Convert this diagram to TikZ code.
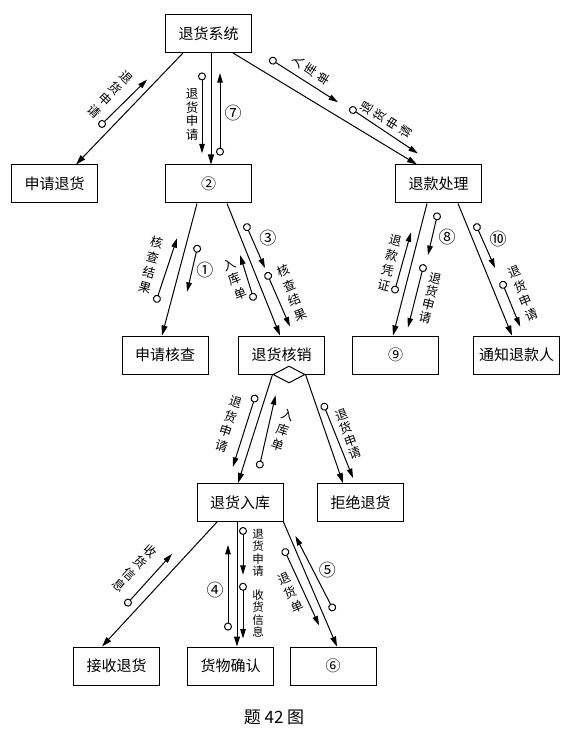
\documentclass[tikz,border=0pt]{standalone}
\usepackage{fontspec}
\setmainfont{Noto Sans CJK SC}
\usetikzlibrary{calc}
\usetikzlibrary{arrows.meta}
\usetikzlibrary{shapes.geometric}

\tikzset{
  box/.style={draw, rectangle, line width=1pt, minimum width=86pt, minimum height=38pt, inner sep=0pt, font=\fontsize{15}{17}\selectfont},
  link/.style={-{Triangle[length=10pt,width=6pt]}, line width=1pt},
  flow/.style={{Circle[open,length=8pt,width=8pt]}-{Triangle[length=9.5pt,width=5.5pt]}, line width=1pt, shorten <=-4pt},
  vlab/.style={align=center, inner sep=0pt, font=\fontsize{12.5}{15.5}\selectfont},
  tight/.style={font=\fontsize{12.5}{13.5}\selectfont},
  slab/.style={align=center, inner sep=0pt, font=\fontsize{11.5}{12.5}\selectfont},
  num/.style={inner sep=0pt, font=\fontsize{17}{17}\selectfont},
}
% small arrow beside a link: from, to, t circle, offset circle, t head, offset head
\newcommand{\msg}[6]{\draw[flow] ($(#1)!#3!(#2)!#4pt!90:(#2)$) -- ($(#1)!#5!(#2)!#6pt!90:(#2)$);}

\begin{document}
\begin{tikzpicture}[x=1pt, y=-1pt]
        \useasboundingbox (0,0) rectangle (571,735);
        % nodes %
        \node[box] (sys) at (208.5,33.5) {退货系统};
        \node[box] (sq) at (54.5,184) {申请退货};
        \node[box] (n2) at (208.5,184) {②};
        \node[box] (rp) at (438.5,184) {退款处理};
        \node[box] (hc) at (165,355) {申请核查};
        \node[box] (hx) at (281.5,355) {退货核销};
        \node[box] (n9) at (395.5,355) {⑨};
        \node[box] (tz) at (516.5,355) {通知退款人};
        \node[draw, diamond, fill=white, line width=1pt, inner sep=0pt, minimum width=32pt, minimum height=17pt] (hxd) at ([xshift=7.5pt]hx.south) {};
        \node[box] (rk) at (240,502.5) {退货入库};
        \node[box] (jj) at (360.5,502.5) {拒绝退货};
        \node[box] (js) at (116.5,666) {接收退货};
        \node[box] (hw) at (230.5,666) {货物确认};
        \node[box] (n6) at (333,666) {⑥};
        \node[font=\fontsize{17}{17}\selectfont] (cap) at (274,717) {题 42 图};

        % edges %
        \draw[link] ([xshift=-25.5pt]sys.south) coordinate (l1a) -- ([xshift=21.5pt]sq.north) coordinate (l1b);
        \draw[link] ([xshift=2.5pt]sys.south) coordinate (l2a) -- ([xshift=2.5pt]n2.north) coordinate (l2b);
        \draw[link] ([xshift=24.5pt]sys.south) coordinate (l3a) -- ([xshift=-21.5pt]rp.north) coordinate (l3b);
        \draw[link] ([xshift=-11.5pt]n2.south) coordinate (l4a) -- ([xshift=-3pt]hc.north) coordinate (l4b);
        \draw[link] ([xshift=18.5pt]n2.south) coordinate (l5a) -- ([xshift=-1.5pt]hx.north) coordinate (l5b);
        \draw[link] ([xshift=-11.5pt]rp.south) coordinate (l6a) -- ([xshift=-2.5pt]n9.north) coordinate (l6b);
        \draw[link] ([xshift=19.5pt]rp.south) coordinate (l7a) -- ([xshift=-4.5pt]tz.north) coordinate (l7b);
        \draw[link] (hxd.west) coordinate (l8a) -- ([xshift=-2pt]rk.north) coordinate (l8b);
        \draw[link] (hxd.east) coordinate (l9a) -- ([xshift=-17.5pt]jj.north) coordinate (l9b);
        \draw[link] ([xshift=-23pt]rk.south) coordinate (l10a) -- ([xshift=-14.5pt]js.north) coordinate (l10b);
        \draw[link] ([xshift=-3pt]rk.south) coordinate (l11a) -- ([xshift=6.5pt]hw.north) coordinate (l11b);
        \draw[link] (rk.south east) coordinate (l12a) -- ([xshift=4pt]n6.north) coordinate (l12b);

        % data flows %
        \msg{l1a}{l1b}{0.694}{-9.3}{0.285}{-7.5}
        \node[vlab, rotate=-43.5] (f1) at ($(l1a)!0.52!(l1b)!-24pt!90:(l1b)$) {退\\货\\申\\请};

        \msg{l2a}{l2b}{0.21}{-9}{0.90}{-9}
        \msg{l2a}{l2b}{0.885}{9}{0.18}{9}
        \node[vlab, tight] (f2) at ($(l2a)!0.55!(l2b)!-19pt!90:(l2b)$) {退\\货\\申\\请};
        \node[num] (c7) at ($(l2a)!0.54!(l2b)!22pt!90:(l2b)$) {⑦};

        \msg{l3a}{l3b}{0.177}{14.1}{0.536}{12.3}
        \msg{l3a}{l3b}{0.614}{13.4}{0.977}{9.9}
        \node[vlab, rotate=58.5] (f3) at ($(l3a)!0.35!(l3b)!25.5pt!90:(l3b)$) {入\\库\\单};
        \node[vlab, rotate=58.5] (f4) at ($(l3a)!0.77!(l3b)!22.6pt!90:(l3b)$) {退\\货\\申\\请};

        \msg{l4a}{l4b}{0.75}{-14.3}{0.283}{-10.4}
        \msg{l4a}{l4b}{0.32}{11.7}{0.644}{13}
        \node[vlab, rotate=-14.7] (f5) at ($(l4a)!0.521!(l4b)!-29pt!90:(l4b)$) {核\\查\\结\\果};
        \node[num] (c1) at ($(l4a)!0.457!(l4b)!24.8pt!90:(l4b)$) {①};

        \msg{l5a}{l5b}{0.207}{9.7}{0.52}{11.2}
        \msg{l5a}{l5b}{0.677}{-10.6}{0.371}{-7.1}
        \msg{l5a}{l5b}{0.58}{11.1}{0.967}{12.6}
        \node[num] (c3) at ($(l5a)!0.333!(l5b)!25.1pt!90:(l5b)$) {③};
        \node[vlab, rotate=21.7] (f6) at ($(l5a)!0.514!(l5b)!-20.7pt!90:(l5b)$) {入\\库\\单};
        \node[vlab, rotate=21.7] (f7) at ($(l5a)!0.752!(l5b)!27.1pt!90:(l5b)$) {核\\查\\结\\果};

        \msg{l6a}{l6b}{0.67}{-9.5}{0.234}{-8.3}
        \msg{l6a}{l6b}{0.073}{12.9}{0.365}{13.8}
        \msg{l6a}{l6b}{0.466}{12.2}{0.916}{12.5}
        \node[vlab, rotate=-14.3] (f8) at ($(l6a)!0.494!(l6b)!-21.3pt!90:(l6b)$) {退\\款\\凭\\证};
        \node[num] (c8) at ($(l6a)!0.203!(l6b)!27.8pt!90:(l6b)$) {⑧};
        \node[vlab, tight, rotate=-14.3] (f9) at ($(l6a)!0.665!(l6b)!26.4pt!90:(l6b)$) {退\\货\\申\\请};

        \msg{l7a}{l7b}{0.204}{8.6}{0.517}{9.9}
        \msg{l7a}{l7b}{0.647}{10.9}{0.964}{10.9}
        \node[num] (c10) at ($(l7a)!0.337!(l7b)!23.6pt!90:(l7b)$) {⑩};
        \node[vlab, rotate=22.1] (f10) at ($(l7a)!0.758!(l7b)!26.1pt!90:(l7b)$) {退\\货\\申\\请};

        \msg{l8a}{l8b}{0.249}{-9.8}{0.879}{-9.8}
        \msg{l8a}{l8b}{0.787}{15.2}{0.166}{9.2}
        \node[vlab, rotate=-18.2] (f11) at ($(l8a)!0.533!(l8b)!-26.7pt!90:(l8b)$) {退\\货\\申\\请};
        \node[vlab, rotate=-18.2] (f12) at ($(l8a)!0.437!(l8b)!27pt!90:(l8b)$) {入\\库\\单};

        \msg{l9a}{l9b}{0.319}{7.3}{0.988}{11.1}
        \node[vlab, tight, rotate=19.6] (f13) at ($(l9a)!0.615!(l9b)!20.8pt!90:(l9b)$) {退\\货\\申\\请};

        \msg{l10a}{l10b}{0.706}{-10.7}{0.318}{-11.4}
        \node[vlab, rotate=-42.6] (f14) at ($(l10a)!0.528!(l10b)!-28.9pt!90:(l10b)$) {收\\货\\信\\息};

        \msg{l11a}{l11b}{0.84}{-9}{0.184}{-9}
        \msg{l11a}{l11b}{0.072}{6}{0.424}{6}
        \msg{l11a}{l11b}{0.52}{6}{0.936}{6}
        \node[num] (c4) at ($(l11a)!0.544!(l11b)!-22pt!90:(l11b)$) {④};
        \node[slab] (f15) at ($(l11a)!0.248!(l11b)!21pt!90:(l11b)$) {退\\货\\申\\请};
        \node[slab] (f16) at ($(l11a)!0.736!(l11b)!21pt!90:(l11b)$) {收\\货\\信\\息};

        \msg{l12a}{l12b}{0.721}{11}{0.13}{5.4}
        \msg{l12a}{l12b}{0.209}{-10.2}{0.805}{-8.1}
        \node[num] (c5) at ($(l12a)!0.456!(l12b)!21.2pt!90:(l12b)$) {⑤};
        \node[vlab, rotate=23.5] (f17) at ($(l12a)!0.5!(l12b)!-21.2pt!90:(l12b)$) {退\\货\\单};
\end{tikzpicture}
\end{document}
